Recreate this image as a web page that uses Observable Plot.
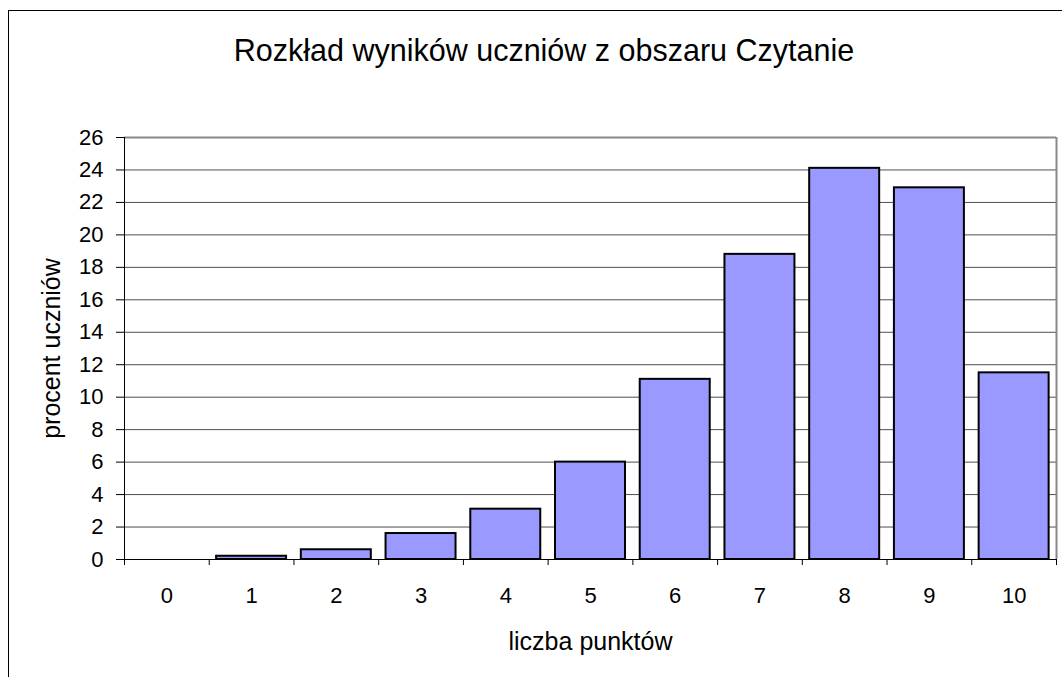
<!DOCTYPE html>
<html><head><meta charset="utf-8">
<script src="https://cdn.jsdelivr.net/npm/d3@7"></script>
<script src="https://cdn.jsdelivr.net/npm/@observablehq/plot@0.6"></script>
<style>
body{margin:0;background:#fff;font-family:"Liberation Sans",Arial,sans-serif;}
#wrap{position:relative;width:1062px;height:677px;overflow:hidden;}
#frame{position:absolute;left:8px;top:10px;width:1100px;height:700px;border-left:1px solid #000;border-top:1px solid #000;}
#title{position:absolute;left:0;width:1088px;top:33px;text-align:center;font-size:30.5px;color:#000;white-space:nowrap;}
#chart{position:absolute;left:0;top:0;}
#chart svg text, #chart svg g{font-size:22px;}
#chart svg g.lab, #chart svg g.lab text{font-size:25px;}
</style></head><body>
<div id="wrap"><div id="frame"></div><div id="title"></div><div id="chart"></div></div>
<script>
const titleText = "Rozkład wyników uczniów z obszaru Czytanie";
const xLabel = "liczba punktów";
const yLabel = "procent uczniów";
const categories = [0,1,2,3,4,5,6,7,8,9,10];
const values = [0,0.2,0.6,1.6,3.1,6.0,11.1,18.8,24.1,22.9,11.5];
const yTicks = [0,2,4,6,8,10,12,14,16,18,20,22,24,26];

document.getElementById("title").textContent = titleText;
const data = categories.map((k,i)=>({k, v: values[i]}));
const half = 0.413;
const boundaries = [...categories.map(k=>k-0.5), categories[categories.length-1]+0.5];

const chart = Plot.plot({
  width:1062, height:677,
  marginLeft:124, marginRight:6, marginTop:137, marginBottom:118,
  style:{fontFamily:"'Liberation Sans', Arial, sans-serif", fontSize:"22px", background:"transparent", color:"#000"},
  x:{domain:[-0.5,10.5], axis:null},
  y:{domain:[0,26], axis:null},
  marks:[
    Plot.gridY(yTicks,{stroke:"#4d4d4d", strokeOpacity:1}),
    Plot.ruleY([26],{stroke:"#888", strokeWidth:2}),
    Plot.ruleX([10.5],{stroke:"#888", strokeWidth:2}),
    Plot.rectY(data.filter(d=>d.v>0),{x1:d=>d.k-half, x2:d=>d.k+half, y1:0, y2:"v", fill:"#9999ff", stroke:"#000", strokeWidth:2}),
    Plot.ruleX([-0.5],{stroke:"#000"}),
    Plot.ruleY([0],{stroke:"#000"}),
    Plot.axisY(yTicks,{tickSize:8, tickPadding:13, label:null}),
    Plot.axisX(boundaries,{tickSize:6, tickFormat:()=>"", label:null}),
    Plot.axisX(categories,{tickSize:0, tickPadding:28, label:null}),
    Plot.text([yLabel],{text:d=>d, frameAnchor:"left", dx:-73, rotate:-90, lineAnchor:"middle", textAnchor:"middle", fill:"#000", className:"lab"}),
    Plot.text([xLabel],{text:d=>d, frameAnchor:"bottom", dy:82, lineAnchor:"middle", textAnchor:"middle", fill:"#000", className:"lab"})
  ]
});
document.getElementById("chart").append(chart);
</script>
</body></html>
